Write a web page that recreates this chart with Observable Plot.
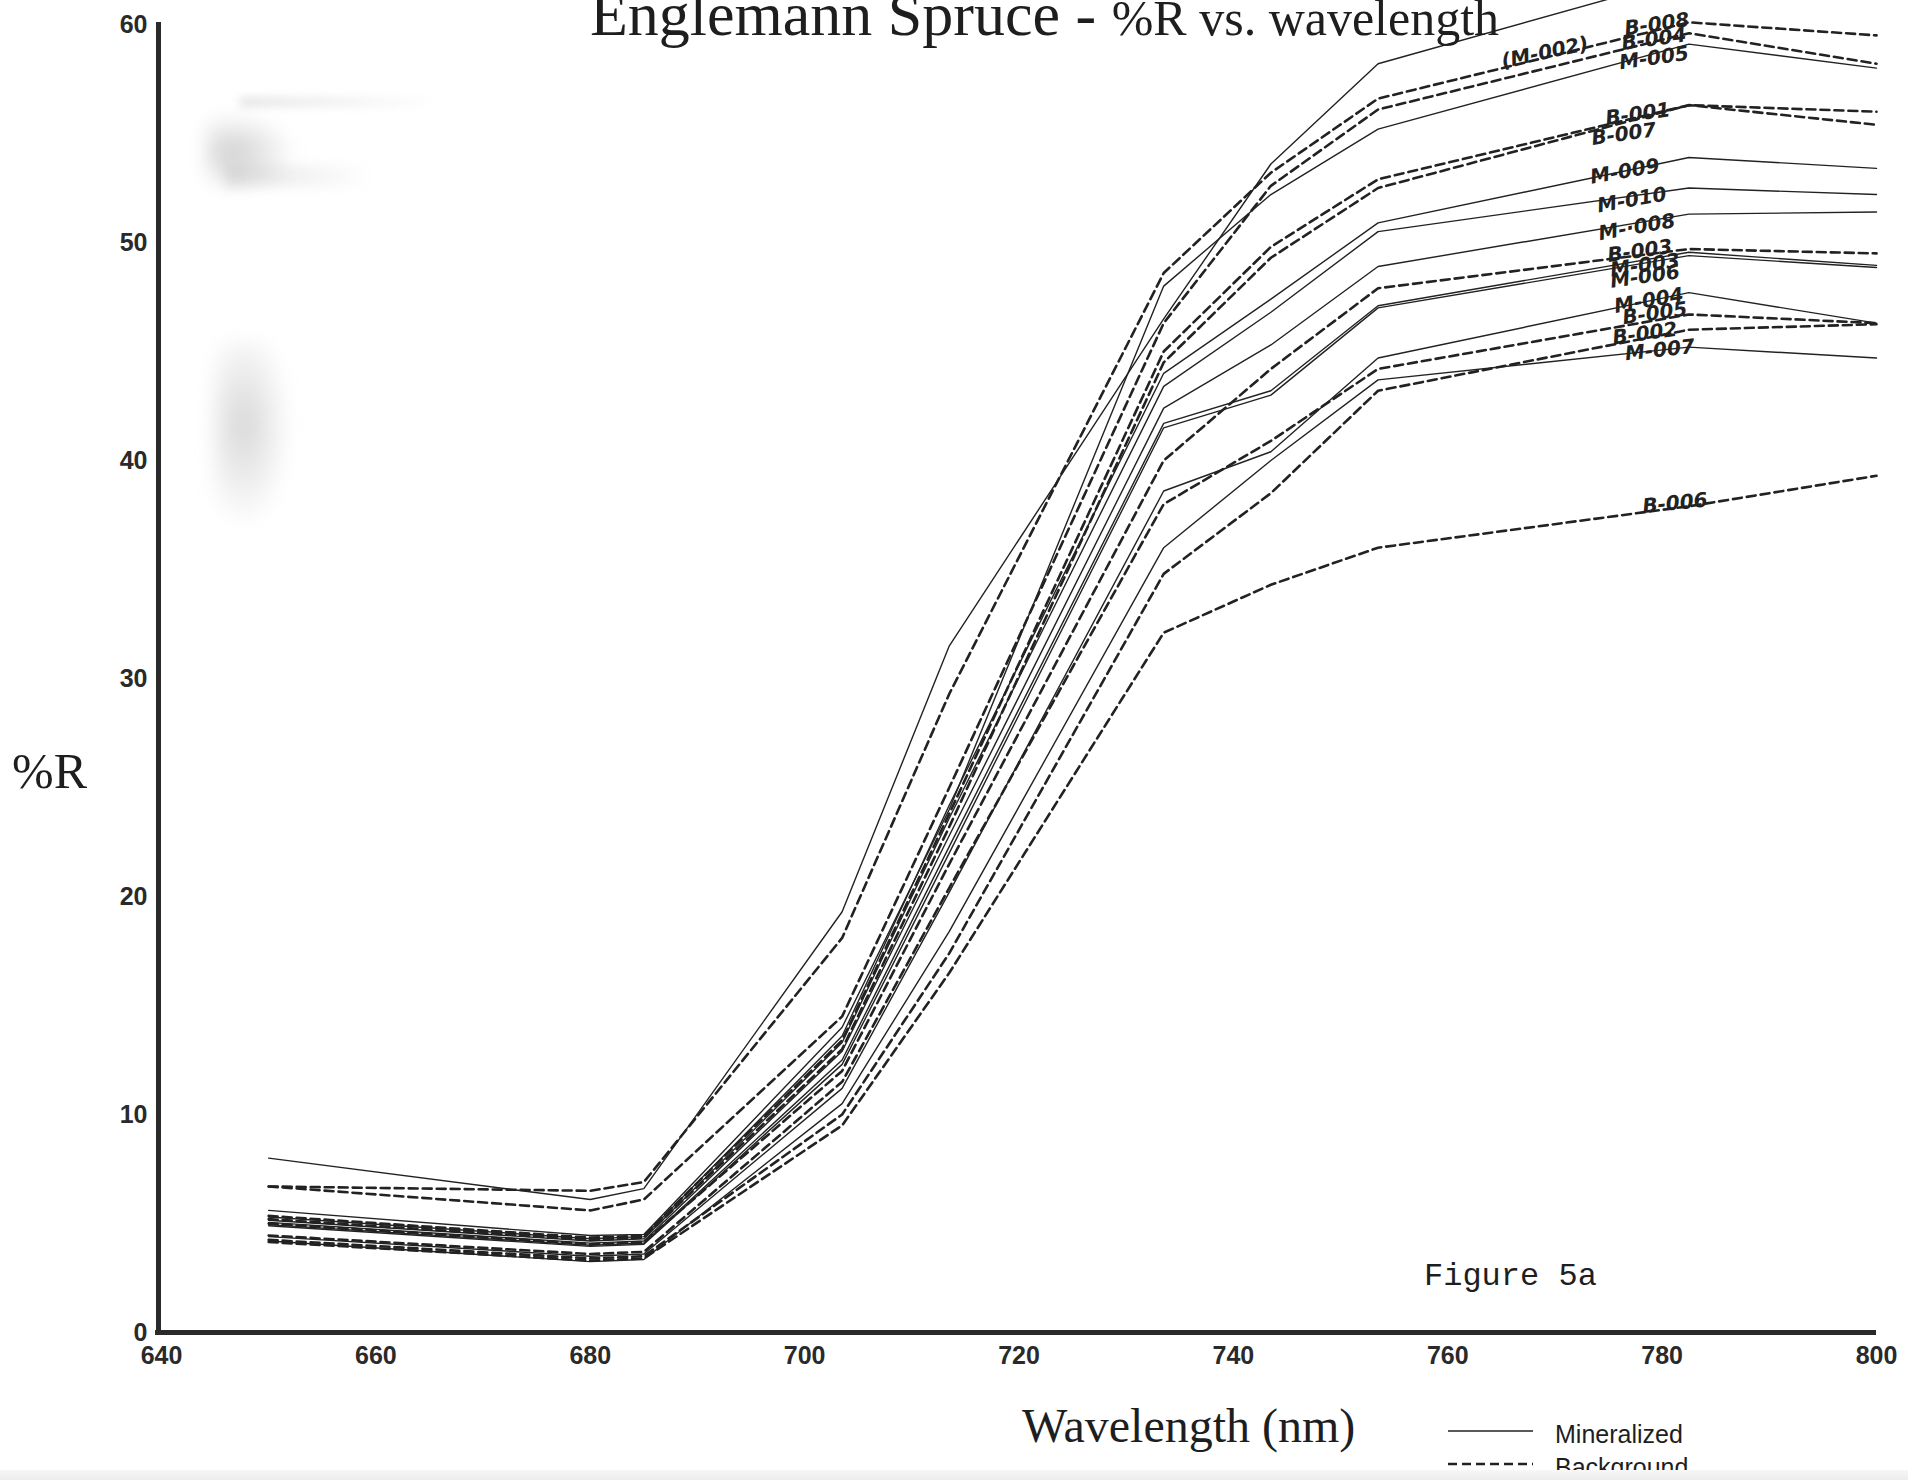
<!DOCTYPE html>
<html>
<head>
<meta charset="utf-8">
<script src="https://cdn.jsdelivr.net/npm/d3@7"></script>
<script src="https://cdn.jsdelivr.net/npm/@observablehq/plot@0.6"></script>
<style>
  html, body { margin: 0; padding: 0; background: #fff; }
  #page { position: relative; width: 1908px; height: 1480px; overflow: hidden; background: #fff; }
  #chart { position: absolute; left: 0; top: 0; }
  .t { position: absolute; white-space: nowrap; line-height: 1; color: #1e1e1e; }
  .serif { font-family: "Liberation Serif", "Times New Roman", serif; }
  #title { left: 590px; top: -17px; font-size: 62px; }
  #title .sub { font-size: 50px; }
  #ylab { left: 12px; top: 746px; font-size: 50px; }
  #xlab { left: 1022px; top: 1402px; font-size: 48px; }
  #fig { left: 1424px; top: 1261px; font-size: 32px; font-family: "Liberation Mono", "Courier New", monospace; }
  .leg { font-family: "Liberation Sans", Arial, sans-serif; font-size: 25px; left: 1555px; }
  #leg1 { top: 1422px; }
  #leg2 { top: 1455px; }
  #swatch { position: absolute; left: 1448px; top: 1420px; }
  #edge { position: absolute; left: 0; top: 1470px; width: 1908px; height: 10px;
          background: linear-gradient(#f7f7f7, #ececec); }
  .smudge { position: absolute; pointer-events: none; }
</style>
</head>
<body>
<div id="page">
  <div class="smudge" style="left:206px;top:112px;width:90px;height:80px;background:radial-gradient(ellipse at 30% 50%, rgba(150,150,150,0.45), rgba(150,150,150,0) 70%);filter:blur(9px)"></div>
  <div class="smudge" style="left:240px;top:97px;width:200px;height:10px;background:linear-gradient(90deg, rgba(170,170,170,0.3), rgba(170,170,170,0));filter:blur(4px)"></div>
  <div class="smudge" style="left:225px;top:165px;width:150px;height:22px;background:linear-gradient(90deg, rgba(170,170,170,0.3), rgba(170,170,170,0));filter:blur(6px)"></div>
  <div class="smudge" style="left:212px;top:340px;width:80px;height:190px;background:radial-gradient(ellipse at 40% 45%, rgba(150,150,150,0.38), rgba(150,150,150,0) 70%);filter:blur(9px)"></div>
  <div id="chart"></div>
  <div id="title" class="t serif">Englemann Spruce - <span class="sub">%R vs. wavelength</span></div>
  <div id="ylab" class="t serif">%R</div>
  <div id="xlab" class="t serif">Wavelength (nm)</div>
  <div id="fig" class="t">Figure 5a</div>
  <svg id="swatch" width="90" height="60"></svg>
  <div id="leg1" class="t leg">Mineralized</div>
  <div id="leg2" class="t leg">Background</div>
  <div id="edge"></div>
</div>
<script>
// Sampled wavelengths (nm)
const wavelengths = [650, 680, 685, 703.5, 713.5, 733.5, 743.5, 753.5, 782.5, 800];

// Axis ticks
const xTicks = [640, 660, 680, 700, 720, 740, 760, 780, 800];
const yTicks = [0, 10, 20, 30, 40, 50, 60];

// Mineralized sites (%R)
const m002 = [8.0, 6.1, 6.6, 19.3, 31.5, 46.5, 53.6, 58.2, 62.2, 61.6];
const m005 = [5.6, 4.45, 4.5, 14.0, 24.0, 48.0, 52.2, 55.2, 59.1, 58.0];
const m009 = [5.3, 4.3, 4.4, 13.6, 24.2, 44.0, 47.4, 50.9, 53.9, 53.4];
const m010 = [5.15, 4.2, 4.3, 13.3, 23.6, 43.4, 46.8, 50.5, 52.5, 52.2];
const m008 = [5.05, 4.1, 4.2, 12.9, 22.8, 42.4, 45.3, 48.9, 51.3, 51.4];
const m003 = [4.95, 4.0, 4.1, 12.5, 22.3, 41.7, 43.2, 47.1, 49.55, 48.95];
const m006 = [4.9, 3.95, 4.05, 12.3, 22.0, 41.5, 43.0, 47.0, 49.4, 48.85];
const m004 = [4.4, 3.5, 3.6, 11.2, 20.2, 38.6, 40.4, 44.7, 47.7, 46.3];
const m007 = [4.2, 3.25, 3.35, 10.5, 18.4, 36.0, 40.0, 43.7, 45.2, 44.7];

// Background sites (%R)
const b008 = [6.7, 6.5, 6.9, 18.1, 29.3, 48.6, 53.2, 56.6, 60.1, 59.5];
const b004 = [6.7, 5.6, 6.1, 14.5, 25.0, 46.3, 52.6, 56.1, 59.6, 58.2];
const b001 = [5.35, 4.35, 4.45, 13.4, 23.8, 45.0, 49.8, 52.9, 56.3, 56.0];
const b007 = [5.2, 4.25, 4.35, 13.0, 23.2, 44.5, 49.3, 52.5, 56.3, 55.4];
const b003 = [5.0, 4.05, 4.15, 12.0, 21.5, 40.0, 44.2, 47.9, 49.7, 49.5];
const b005 = [4.45, 3.6, 3.7, 11.5, 20.4, 38.0, 40.9, 44.2, 46.7, 46.3];
const b002 = [4.25, 3.4, 3.5, 10.0, 17.4, 34.8, 38.5, 43.2, 46.0, 46.25];
const b006 = [4.15, 3.3, 3.4, 9.5, 16.5, 32.1, 34.3, 36.0, 37.9, 39.3];

const series = [
  {id: "M-002", type: "Mineralized", values: m002},
  {id: "M-005", type: "Mineralized", values: m005},
  {id: "M-009", type: "Mineralized", values: m009},
  {id: "M-010", type: "Mineralized", values: m010},
  {id: "M-008", type: "Mineralized", values: m008},
  {id: "M-003", type: "Mineralized", values: m003},
  {id: "M-006", type: "Mineralized", values: m006},
  {id: "M-004", type: "Mineralized", values: m004},
  {id: "M-007", type: "Mineralized", values: m007},
  {id: "B-008", type: "Background", values: b008},
  {id: "B-004", type: "Background", values: b004},
  {id: "B-001", type: "Background", values: b001},
  {id: "B-007", type: "Background", values: b007},
  {id: "B-003", type: "Background", values: b003},
  {id: "B-005", type: "Background", values: b005},
  {id: "B-002", type: "Background", values: b002},
  {id: "B-006", type: "Background", values: b006}
];

// Long-format table for the line marks
const rows = series.flatMap(s => s.values.map((v, i) => ({id: s.id, type: s.type, wl: wavelengths[i], r: v})));

// Hand-written site labels near the 782.5 nm peak: [site, text, dx, dy, rotate]
const peakIndex = 8;
const labelLayout = [
  ["B-008", "B-008", -32, 2, -8],
  ["B-004", "B-004", -35, 6, -8],
  ["M-005", "M-005", -35, 14, -8],
  ["M-002", "(M-002)", -144, 76, -12],
  ["B-001", "B-001", -51, 9, -8],
  ["B-007", "B-007", -65, 29, -8],
  ["M-009", "M-009", -64, 14, -10],
  ["M-010", "M-010", -57, 12, -10],
  ["M-008", "M-·008", -52, 13, -10],
  ["B-003", "B-003", -49, 2, -8],
  ["M-003", "M-003", -44, 13, -8],
  ["M-006", "M-006", -44, 21, -8],
  ["M-004", "M-004", -40, 8, -10],
  ["B-005", "B-005", -34, -1, -8],
  ["B-002", "B-002", -44, 4, -8],
  ["M-007", "M-007", -29, 3, -6],
  ["B-006", "B-006", -14, -3, -6]
];

const ink = "#222";
const labelMarks = labelLayout.map(([sid, txt, dx, dy, rot]) => {
  const s = series.find(d => d.id === sid);
  return Plot.text([{wl: wavelengths[peakIndex], r: s.values[peakIndex], t: txt}], {
    x: "wl", y: "r", text: "t", dx, dy, rotate: rot,
    fontSize: 20, fontStyle: "italic", fontWeight: 600,
    fontFamily: "DejaVu Sans, sans-serif", fill: ink
  });
});

const chart = Plot.plot({
  width: 1908,
  height: 1400,
  marginLeft: 161,
  marginRight: 32,
  marginTop: 24,
  marginBottom: 68,
  style: {
    fontFamily: "Liberation Sans, Arial, sans-serif",
    fontSize: "25px",
    fontWeight: "bold",
    color: "#2a2a2a",
    background: "transparent",
    overflow: "visible"
  },
  x: {domain: [640, 800], ticks: xTicks, tickSize: 0, tickPadding: 14, label: null, tickFormat: d => String(d)},
  y: {domain: [0, 60], ticks: yTicks, tickSize: 0, tickPadding: 14, label: null},
  marks: [
    Plot.line(rows.filter(d => d.type === "Mineralized"), {
      x: "wl", y: "r", z: "id", stroke: ink, strokeWidth: 1.4
    }),
    Plot.line(rows.filter(d => d.type === "Background"), {
      x: "wl", y: "r", z: "id", stroke: ink, strokeWidth: 2.6, strokeDasharray: "9,5"
    }),
    ...labelMarks,
    Plot.ruleX([640], {stroke: "#2a2a2a", strokeWidth: 5, dx: -3, insetTop: -2, insetBottom: -3}),
    Plot.ruleY([0], {stroke: "#2a2a2a", strokeWidth: 5, insetLeft: -6})
  ]
});
document.getElementById("chart").appendChild(chart);

// Legend swatches
const sw = d3.select("#swatch");
sw.append("line").attr("x1", 0).attr("x2", 85).attr("y1", 11).attr("y2", 11)
  .attr("stroke", ink).attr("stroke-width", 1.4);
sw.append("line").attr("x1", 0).attr("x2", 85).attr("y1", 44).attr("y2", 44)
  .attr("stroke", ink).attr("stroke-width", 2.4).attr("stroke-dasharray", "9,5");
</script>
</body>
</html>
